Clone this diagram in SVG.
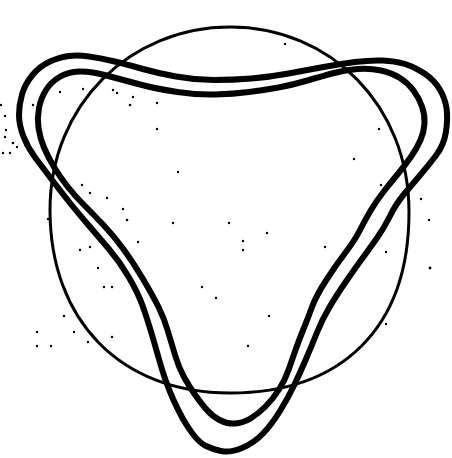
<svg xmlns="http://www.w3.org/2000/svg" width="452" height="458" viewBox="0 0 452 458">
<style>
.ring{fill:none;stroke:#000;stroke-width:3;stroke-linejoin:round}
.loop{fill:none;stroke:#000;stroke-width:6;stroke-linejoin:round;stroke-linecap:round}
.dot{fill:#000}
</style>
<rect width="452" height="458" fill="#fff"/>
<g id="circle">
<path class="ring" d="M230,27 C330,27 409,105 409,212 C409,330 340,393 230,393 C120,393 50,320 50,210 C50,105 130,27 230,27 Z"/>
</g>
<g id="outer-loop">
<path class="loop" d="M214,80 Q233,80 251.5,78.5 Q270,77 288.5,73.5 Q307,70 323.5,67 Q340,64 355,62 Q370,60 382.5,60.5 Q395,61 405,64 Q415,67 424.5,73.5 Q434,80 439.5,89 Q445,98 446.5,108 Q448,118 446,131.5 Q444,145 436,155.5 Q428,166 419,176.5 Q410,187 403,195.5 Q396,204 390,216 Q384,228 377,238 Q370,248 363,257.5 Q356,267 346,281.5 Q336,296 329,308 Q322,320 317,332.5 Q312,345 306,359 Q300,373 294,385.5 Q288,398 280,411 Q272,424 263,433.5 Q254,443 242,448 Q230,453 221,451 Q212,449 206,446 Q200,443 194,435.5 Q188,428 183,419 Q178,410 173.5,400 Q169,390 165.5,380 Q162,370 158.5,357.5 Q155,345 151,331.5 Q147,318 142.5,305.5 Q138,293 129,277.5 Q120,262 108.5,248.5 Q97,235 87.5,224 Q78,213 70,203 Q62,193 52.5,180.5 Q43,168 35.5,158 Q28,148 23.5,136.5 Q19,125 19,115 Q19,105 22,94.5 Q25,84 32.5,75 Q40,66 50,61.5 Q60,57 69,56 Q78,55 89,56.5 Q100,58 112.5,61 Q125,64 141,68.5 Q157,73 176,76.5 Q195,80 214,80 Z"/>
</g>
<g id="inner-loop">
<path class="loop" d="M215.5,94.5 Q233,94 249,92 Q265,90 278.5,87.5 Q292,85 307.5,80.5 Q323,76 334,73 Q345,70 357.5,69 Q370,68 381,70.5 Q392,73 400,78 Q408,83 413.5,90.5 Q419,98 422,106.5 Q425,115 424.5,123.5 Q424,132 420.5,140 Q417,148 411.5,156 Q406,164 399,172.5 Q392,181 384.5,190.5 Q377,200 371,210 Q365,220 360,230 Q355,240 345.5,252.5 Q336,265 326,280.5 Q316,296 312,307 Q308,318 303.5,329 Q299,340 295.5,350 Q292,360 288.5,370 Q285,380 279,389.5 Q273,399 265.5,406.5 Q258,414 250.5,418.5 Q243,423 235,423.5 Q227,424 219.5,420 Q212,416 206,409 Q200,402 194.5,394 Q189,386 184,377 Q179,368 175.5,356.5 Q172,345 168,331.5 Q164,318 158.5,307 Q153,296 143,279 Q133,262 123,248.5 Q113,235 103,224.5 Q93,214 84,205 Q75,196 67.5,186.5 Q60,177 54,167 Q48,157 44,147.5 Q40,138 38.5,128 Q37,118 39,108 Q41,98 46,90 Q51,82 59.5,77 Q68,72 79,71.5 Q90,71 106.5,75.5 Q123,80 140,84.5 Q157,89 177.5,92 Q198,95 215.5,94.5 Z"/>
</g>
<g id="speckles" class="dot">
<circle cx="5" cy="116" r="1.2"/><circle cx="1" cy="105" r="1.2"/><circle cx="6" cy="130" r="1.2"/><circle cx="5" cy="137" r="1.2"/>
<circle cx="13" cy="143" r="1.3"/><circle cx="3" cy="153" r="1.2"/><circle cx="10" cy="153" r="1.2"/><circle cx="17" cy="147" r="1.2"/>
<circle cx="25" cy="145" r="1.2"/><circle cx="33" cy="105" r="1.2"/><circle cx="60" cy="92" r="1.2"/><circle cx="83" cy="89" r="1.2"/>
<circle cx="113" cy="90" r="1.2"/><circle cx="117" cy="93" r="1.2"/><circle cx="133" cy="97" r="1.2"/><circle cx="130" cy="105" r="1.3"/>
<circle cx="157" cy="103" r="1.2"/><circle cx="157" cy="129" r="1.2"/><circle cx="178" cy="172" r="1.2"/><circle cx="82" cy="185" r="1.2"/>
<circle cx="90" cy="193" r="1.2"/><circle cx="107" cy="198" r="1.2"/><circle cx="123" cy="209" r="1.2"/><circle cx="127" cy="220" r="1.3"/>
<circle cx="173" cy="223" r="1.2"/><circle cx="48" cy="219" r="1.2"/><circle cx="285" cy="44" r="1.2"/><circle cx="379" cy="129" r="1.2"/>
<circle cx="354" cy="159" r="1.2"/><circle cx="381" cy="185" r="1.2"/><circle cx="421" cy="199" r="1.2"/><circle cx="429" cy="220" r="1.2"/>
<circle cx="229" cy="223" r="1.2"/><circle cx="80" cy="250" r="1.2"/><circle cx="90" cy="247" r="1.2"/><circle cx="98" cy="268" r="1.2"/>
<circle cx="104" cy="287" r="1.2"/><circle cx="112" cy="287" r="1.2"/><circle cx="138" cy="242" r="1.2"/><circle cx="202" cy="287" r="1.2"/>
<circle cx="216" cy="298" r="1.2"/><circle cx="64" cy="316" r="1.2"/><circle cx="37" cy="332" r="1.2"/><circle cx="37" cy="346" r="1.2"/>
<circle cx="51" cy="346" r="1.2"/><circle cx="74" cy="332" r="1.2"/><circle cx="88" cy="342" r="1.2"/><circle cx="112" cy="337" r="1.2"/>
<circle cx="243" cy="241" r="1.2"/><circle cx="243" cy="250" r="1.2"/><circle cx="267" cy="233" r="1.2"/><circle cx="325" cy="247" r="1.2"/>
<circle cx="386" cy="252" r="1.2"/><circle cx="430" cy="268" r="1.4"/><circle cx="269" cy="316" r="1.2"/><circle cx="248" cy="346" r="1.2"/>
<circle cx="386" cy="324" r="1.2"/>
</g>
</svg>
